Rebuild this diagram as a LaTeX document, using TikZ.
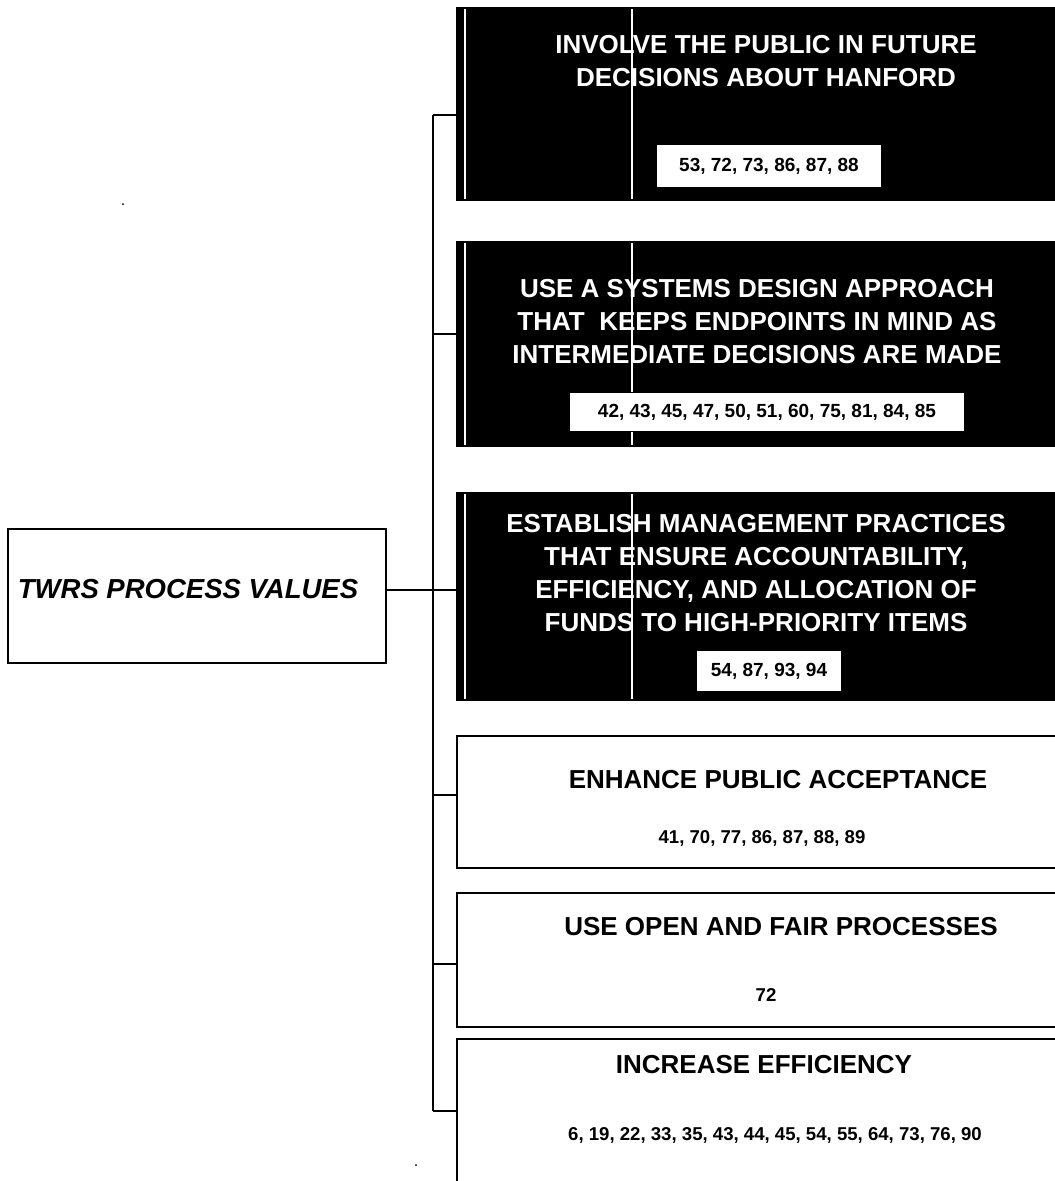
\documentclass[tikz,border=0pt]{standalone}
\usepackage{fontspec}
\setmainfont{Liberation Sans}
\begin{document}
\begin{tikzpicture}[x=1pt,y=-1pt,
  conn/.style={line width=2.3pt},
  blackbox/.style={fill=black,draw=black,line width=1pt,minimum width=660pt,minimum height=#1,anchor=north west,inner sep=0pt},
  whitebox/.style={fill=white,draw=black,line width=2.3pt,minimum width=660pt,minimum height=#1,anchor=north west,inner sep=0pt},
  wtitle/.style={text=white,font=\fontsize{26}{33}\selectfont\bfseries,align=center,inner sep=0pt},
  btitle/.style={text=black,font=\fontsize{26}{33}\selectfont\bfseries,align=center,inner sep=0pt},
  numbox/.style={fill=white,draw=black,line width=0.8pt,minimum width=#1,inner sep=0pt,font=\fontsize{19}{23}\selectfont\bfseries},
  numtext/.style={font=\fontsize{18.6}{23}\selectfont\bfseries,inner sep=0pt},
  streak/.style={white,line width=1.4pt}]
\useasboundingbox (0,0) rectangle (1055,1181);
\clip (0,0) rectangle (1055,1181);
\fill[white] (0,0) rectangle (1055,1181);

% root box
\node[draw=black,line width=1.8pt,minimum width=378pt,minimum height=134pt,inner sep=0pt] (tw) at (197,596) {};
\node[font=\fontsize{27.5}{30}\selectfont\bfseries\itshape,inner sep=0pt] (twt) at (188,589) {TWRS PROCESS VALUES};

% black boxes
\node[blackbox=193pt] (b1) at (456,7) {};
\node[blackbox=205pt] (b2) at (456,241) {};
\node[blackbox=208pt] (b3) at (456,492) {};
\foreach \b in {b1,b2,b3}{
  \draw[streak] ([yshift=-2pt]\b.north west -| 465,0) -- ([yshift=2pt]\b.south west -| 465,0);
  \draw[streak] ([yshift=-2pt]\b.north west -| 632,0) -- ([yshift=2pt]\b.south west -| 632,0);
}

\node[wtitle] (t1) at (766,61) {INVOLVE THE PUBLIC IN FUTURE\\DECISIONS ABOUT HANFORD};
\node[numbox=225pt,minimum height=43pt] (n1) at (769,166) {53, 72, 73, 86, 87, 88};

\node[wtitle] (t2) at (757,322) {USE A SYSTEMS DESIGN APPROACH\\THAT\ \ KEEPS ENDPOINTS IN MIND AS\\INTERMEDIATE DECISIONS ARE MADE};
\node[numbox=395pt,minimum height=39pt] (n2) at (767,412) {42, 43, 45, 47, 50, 51, 60, 75, 81, 84, 85};

\node[wtitle] (t3) at (756,573) {ESTABLISH MANAGEMENT PRACTICES\\THAT ENSURE ACCOUNTABILITY,\\EFFICIENCY, AND ALLOCATION OF\\FUNDS TO HIGH-PRIORITY ITEMS};
\node[numbox=145pt,minimum height=41pt] (n3) at (769,671) {54, 87, 93, 94};

% white boxes
\node[whitebox=132pt] (b4) at (456,735) {};
\node[whitebox=134pt] (b5) at (456,892) {};
\node[whitebox=220pt] (b6) at (456,1038) {};

\node[btitle] (t4) at (778,780) {ENHANCE PUBLIC ACCEPTANCE};
\node[numtext] (n4) at (762,838) {41, 70, 77, 86, 87, 88, 89};
\node[btitle] (t5) at (781,927) {USE OPEN AND FAIR PROCESSES};
\node[numtext] (n5) at (766,995) {72};
\node[btitle] (t6) at (764,1065) {INCREASE EFFICIENCY};
\node[numtext] (n6) at (775,1135) {6, 19, 22, 33, 35, 43, 44, 45, 54, 55, 64, 73, 76, 90};

% junctions on trunk
\coordinate (j1) at (433,115);
\coordinate (j2) at (433,334);
\coordinate (j3) at (433,590);
\coordinate (j4) at (433,795);
\coordinate (j5) at (433,964);
\coordinate (j6) at (433,1111);

\draw[conn] (j1) -- (j6);
\draw[conn] (j1) -- (b1.west |- j1);
\draw[conn] (j2) -- (b2.west |- j2);
\draw[conn] (tw.east |- j3) -- (b3.west |- j3);
\draw[conn] (j4) -- (b4.west |- j4);
\draw[conn] (j5) -- (b5.west |- j5);
\draw[conn] (j6) -- (b6.west |- j6);

% specks
\fill (123,204) circle (1pt);
\fill (416,1165) circle (1pt);
\end{tikzpicture}
\end{document}
